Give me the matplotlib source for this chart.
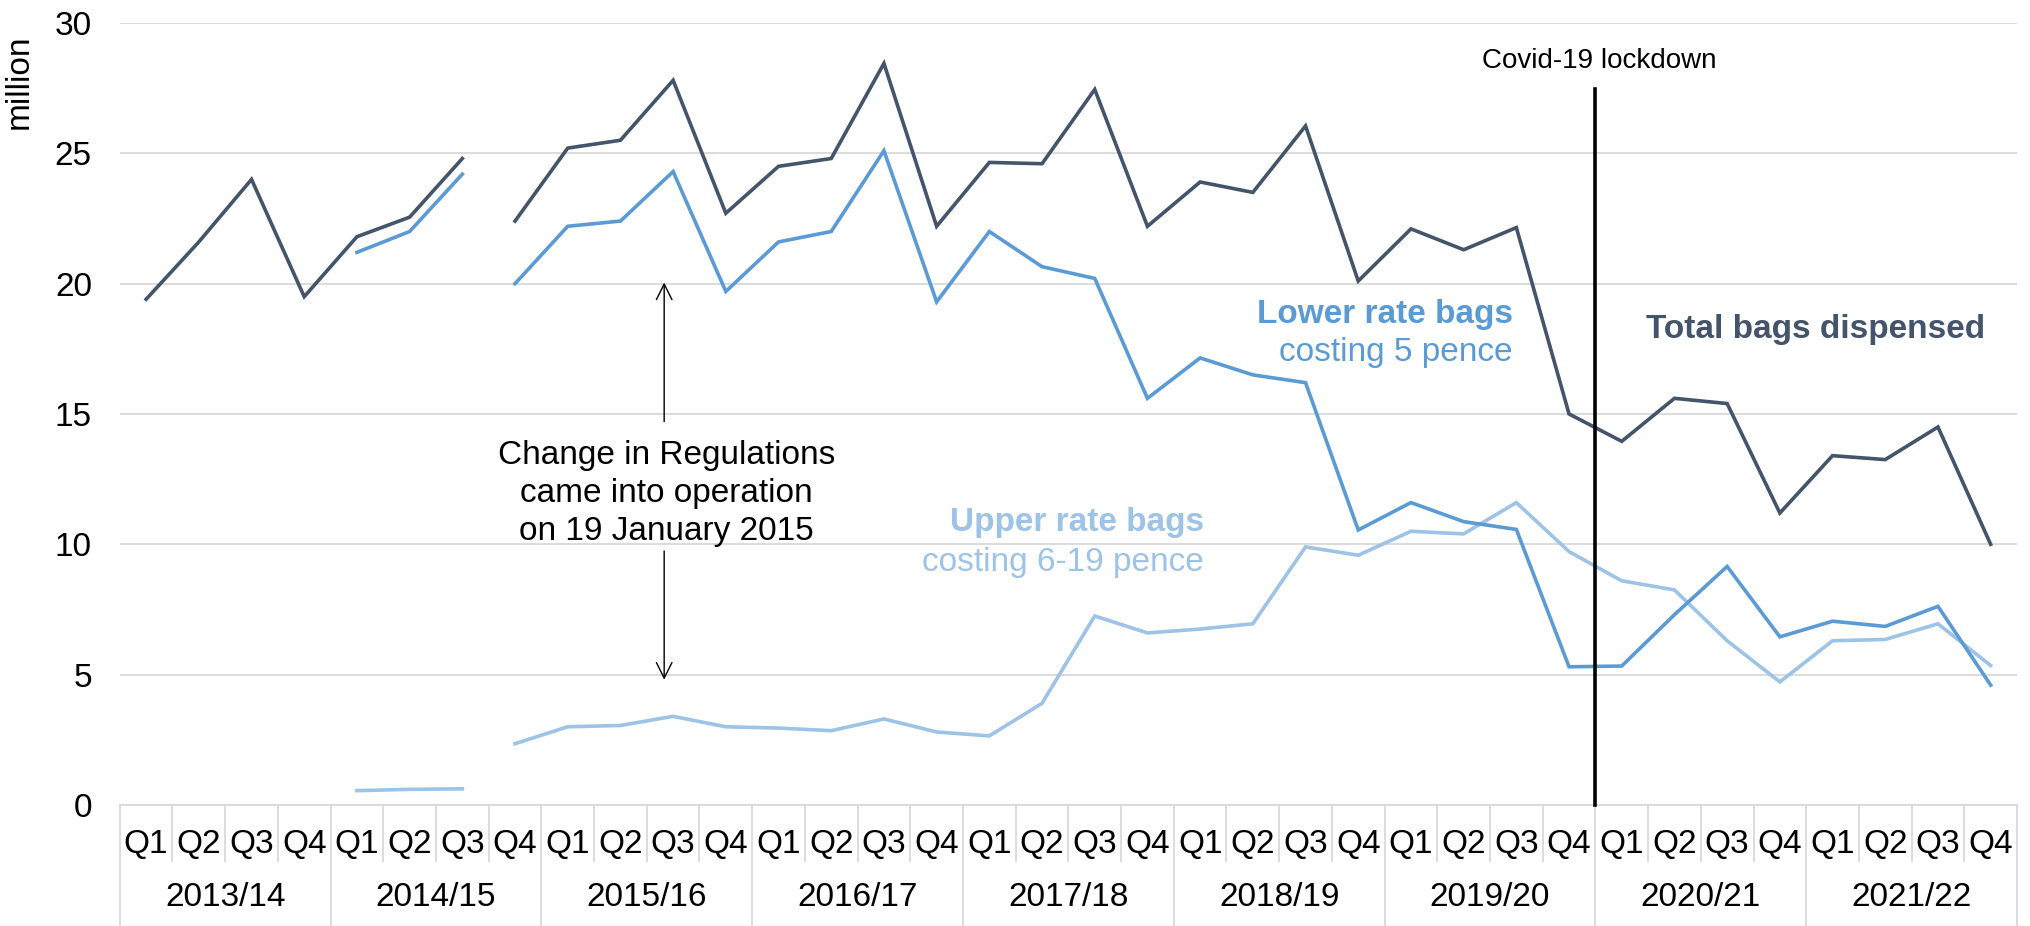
import numpy as np
import matplotlib
matplotlib.use("Agg")
import matplotlib.pyplot as plt
import matplotlib.transforms as mtransforms

plt.rcParams['font.family'] = ['Liberation Sans', 'DejaVu Sans']

years = ['2013/14', '2014/15', '2015/16', '2016/17', '2017/18',
         '2018/19', '2019/20', '2020/21', '2021/22']
quarters = ['Q1', 'Q2', 'Q3', 'Q4']

# bags dispensed, million (quarterly, 2013/14 Q1 .. 2021/22 Q4)
total = [19.4, 21.6, 24.0, 19.5, 21.8, 22.55, 24.8, 22.4,
         25.2, 25.5, 27.8, 22.7, 24.5, 24.8, 28.45, 22.2,
         24.65, 24.6, 27.45, 22.2, 23.9, 23.5, 26.05, 20.1,
         22.1, 21.3, 22.15, 15.0, 13.95, 15.6, 15.4, 11.2,
         13.4, 13.25, 14.5, 10.0]
lower = [None, None, None, None, 21.2, 22.0, 24.2, 20.0,
         22.2, 22.4, 24.3, 19.7, 21.6, 22.0, 25.1, 19.3,
         22.0, 20.65, 20.2, 15.6, 17.15, 16.5, 16.2, 10.55,
         11.6, 10.87, 10.57, 5.3, 5.33, 7.3, 9.15, 6.45,
         7.05, 6.85, 7.62, 4.6]
upper = [None, None, None, None, 0.55, 0.6, 0.62, 2.35,
         3.0, 3.05, 3.4, 3.0, 2.95, 2.85, 3.3, 2.8,
         2.65, 3.9, 7.25, 6.6, 6.75, 6.95, 9.9, 9.58,
         10.5, 10.4, 11.6, 9.72, 8.6, 8.25, 6.3, 4.72,
         6.3, 6.35, 6.95, 5.35]
brk = 7  # series split at the change in regulations

c_total = '#44546A'
c_lower = '#5B9BD5'
c_upper = '#9DC3E6'
grid_c = '#D9D9D9'
fs = 24

fig = plt.figure(figsize=(20.3, 9.26), dpi=100)
ax = fig.add_axes([0.059, 0.1307, 0.9346, 0.8445])

x = np.arange(36)
for vals, col in [(upper, c_upper), (lower, c_lower), (total, c_total)]:
    y = np.array([np.nan if v is None else v for v in vals])
    ax.plot(x[:brk], y[:brk], color=col, lw=2.6, solid_joinstyle='miter', zorder=3)
    ax.plot(x[brk:], y[brk:], color=col, lw=2.6, solid_joinstyle='miter', zorder=3)

ax.set_xlim(-0.5, 35.5)
ax.set_ylim(0, 30)
ax.set_yticks(range(0, 31, 5))
ax.tick_params(axis='y', length=0, pad=20, labelsize=fs)
ax.set_xticks([])
ax.grid(axis='y', color=grid_c, lw=1.3)
ax.set_axisbelow(True)
for s in ['top', 'right', 'left']:
    ax.spines[s].set_visible(False)
ax.spines['bottom'].set_color(grid_c)
ax.spines['bottom'].set_linewidth(1.3)

ax.text(-0.053, 0.925, 'million', transform=ax.transAxes, rotation=90,
        ha='center', va='center', fontsize=fs)

# two level category axis
trans = mtransforms.blended_transform_factory(ax.transData, ax.transAxes)
for i in range(36):
    ax.text(i, -0.05, quarters[i % 4], transform=trans, ha='center',
            va='center', fontsize=fs)
for j, yr in enumerate(years):
    ax.text(4 * j + 1.5, -0.118, yr, transform=trans, ha='center',
            va='center', fontsize=fs)
for i in range(37):
    bottom = -0.16 if i % 4 == 0 else -0.072
    ax.plot([i - 0.5, i - 0.5], [0, bottom], transform=trans, color=grid_c,
            lw=1.3, clip_on=False)

# covid line
ax.plot([27.5, 27.5], [0, 0.915], transform=trans, color='black', lw=2.6,
        clip_on=False, zorder=4)
ax.text(27.57, 0.952, 'Covid-19 lockdown', transform=trans, ha='center',
        va='center', fontsize=20)

# change in regulations
ax.annotate('', xy=(9.83, 20.15), xytext=(9.83, 14.6),
            arrowprops=dict(arrowstyle='->', color='black', lw=1.0,
                            mutation_scale=28))
ax.annotate('', xy=(9.83, 4.7), xytext=(9.83, 9.85),
            arrowprops=dict(arrowstyle='->', color='black', lw=1.0,
                            mutation_scale=28))
ax.text(9.87, 11.95, 'Change in Regulations\ncame into operation\non 19 January 2015',
        ha='center', va='center', fontsize=fs, linespacing=1.3)

# series labels
ax.text(25.93, 18.83, 'Lower rate bags', ha='right', va='center', fontsize=fs,
        fontweight='bold', color=c_lower)
ax.text(25.93, 17.34, 'costing 5 pence', ha='right', va='center', fontsize=fs,
        color=c_lower)
ax.text(31.67, 18.23, 'Total bags dispensed', ha='center', va='center',
        fontsize=fs, fontweight='bold', color=c_total)
ax.text(20.07, 10.83, 'Upper rate bags', ha='right', va='center', fontsize=fs,
        fontweight='bold', color=c_upper)
ax.text(20.07, 9.29, 'costing 6-19 pence', ha='right', va='center',
        fontsize=fs, color=c_upper)

fig.savefig('out.png', dpi=100)
